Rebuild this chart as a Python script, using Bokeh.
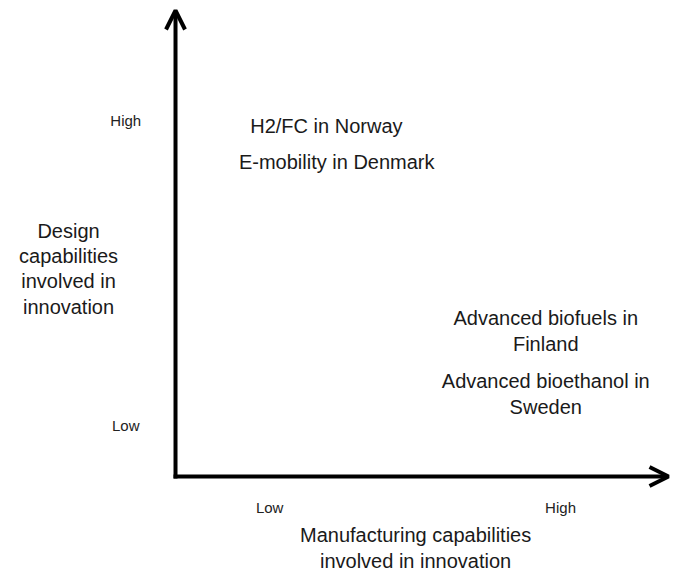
from bokeh.plotting import figure
from bokeh.models import Range1d, Arrow, OpenHead, ColumnDataSource
from bokeh.core.properties import value
from bokeh.embed import file_html
from bokeh.resources import INLINE

# Conceptual scale: 0 = axis origin, 100 = arrow tip
tick_labels = ["Low", "High"]
x_tick_pos = [19.1, 78.1]      # manufacturing capability level
y_tick_pos = [10.9, 76.4]      # design capability level

projects = ["H2/FC in Norway", "E-mobility in Denmark",
            "Advanced biofuels in\nFinland", "Advanced bioethanol in\nSweden"]
proj_manuf = [30.6, 32.7, 75.1, 75.1]
proj_design = [75.3, 67.4, 31.3, 17.7]

x_title = "Manufacturing capabilities\ninvolved in innovation"
y_title = "Design\ncapabilities\ninvolved in\ninnovation"

FONT = value("Liberation Sans")

p = figure(width=676, height=575, output_backend="svg", toolbar_location=None,
           x_range=Range1d(-35.50, 101.62), y_range=Range1d(-21.24, 102.15),
           min_border=0)
p.axis.visible = False
p.grid.visible = False
p.outline_line_color = None
p.background_fill_color = "white"

# axes arrows
p.add_layout(Arrow(end=OpenHead(size=19, line_width=4, line_color="black"),
                   x_start=-0.4, y_start=0, x_end=100, y_end=0,
                   line_width=4, line_color="black"))
p.add_layout(Arrow(end=OpenHead(size=19, line_width=4, line_color="black"),
                   x_start=0, y_start=-0.4, x_end=0, y_end=100,
                   line_width=4, line_color="black"))

# tick labels
p.text(x=x_tick_pos, y=[-6.7, -6.7], text=tick_labels, text_font=FONT,
       text_font_size="15px", text_align="center", text_baseline="middle",
       text_color="#222222")
p.text(x=[-10.1, -10.1], y=y_tick_pos, text=tick_labels, text_font=FONT,
       text_font_size="15px", text_align="center", text_baseline="middle",
       text_color="#222222")

# project labels
src = ColumnDataSource(dict(x=proj_manuf, y=proj_design, t=projects))
p.text(x="x", y="y", text="t", source=src, text_font=FONT,
       text_font_size="20px", text_align="center", text_baseline="middle",
       text_line_height=1.17, text_color="#1a1a1a")

# axis titles
p.text(x=[48.7], y=[-15.3], text=[x_title], text_font=FONT,
       text_font_size="20px", text_align="center", text_baseline="middle",
       text_line_height=1.17, text_color="#1a1a1a")
p.text(x=[-21.7], y=[44.6], text=[y_title], text_font=FONT,
       text_font_size="20px", text_align="center", text_baseline="middle",
       text_line_height=1.15, text_color="#1a1a1a")

open("out.html", "w").write(file_html(p, INLINE))
